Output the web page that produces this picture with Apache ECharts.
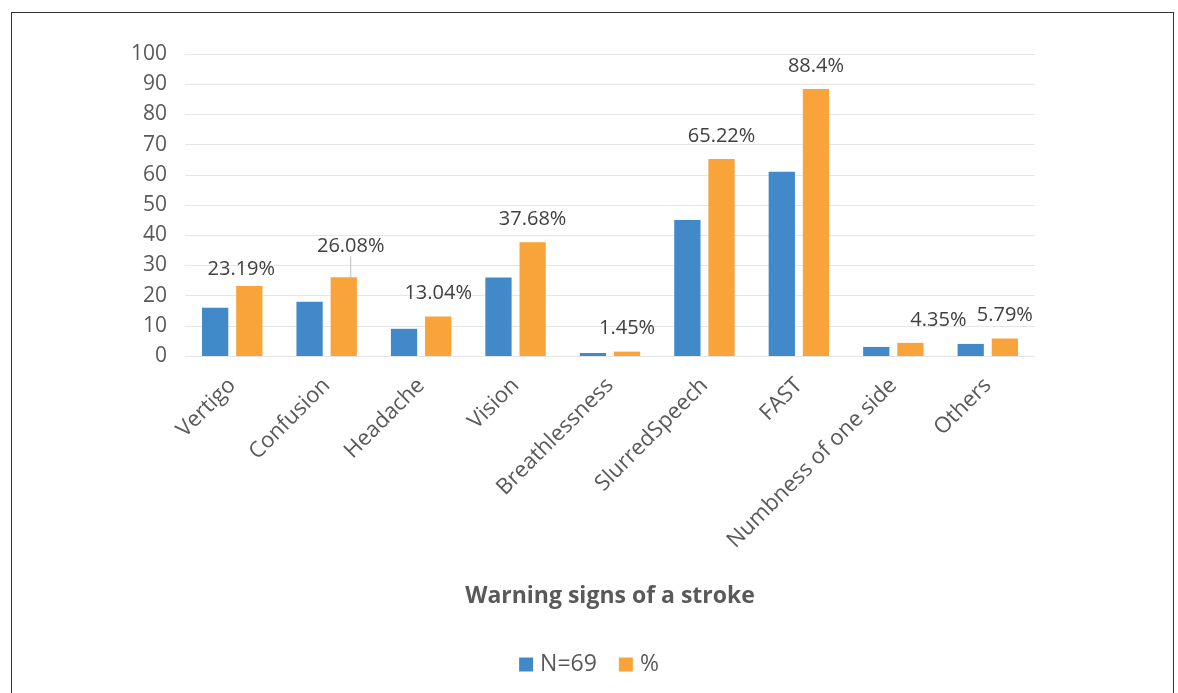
<!DOCTYPE html>
<html>
<head>
<meta charset="utf-8">
<title>Warning signs of a stroke</title>
<script src="https://cdn.jsdelivr.net/npm/echarts@6/dist/echarts.min.js"></script>
<style>
    body { margin: 0; background: #fff; }
    #demo { width: 1178px; height: 693px; }
    /* 外框 */
    #frame {
        position: absolute; left: 11px; top: 12px;
        width: 1161px; height: 700px;
        border: 1.5px solid #333; pointer-events: none;
    }
</style>
</head>
<body>
<div id="demo"></div>
<div id="frame"></div>
<script>
/**
 * 数据
 */
var categories = ['Vertigo', 'Confusion', 'Headache', 'Vision', 'Breathlessness',
    'SlurredSpeech', 'FAST', 'Numbness of one side', 'Others'];
var count_values = [16, 18, 9, 26, 1, 45, 61, 3, 4];                               // N=69
var pct_values = [23.19, 26.08, 13.04, 37.68, 1.45, 65.22, 88.4, 4.35, 5.79];     // %
var y_ticks = { min: 0, max: 100, interval: 10 };

// 个别标签的手动偏移（原图中手工挪过位置）
var label_nudge = { 0: [-8, 6], 1: [7, -8], 7: [28, 0] };

/**
 * 初始化参数
 */
var basedata = {
    dom_id: 'demo',
    echarts_bar: null
};

window.onload = function () {
    init_application();
};

var init_application = function () {
    basedata.echarts_bar = new StrokeBar(basedata.dom_id);
    basedata.echarts_bar.render_echart();
    window.onresize = function () {
        basedata.echarts_bar.myChart.resize();
    };
};

/******************************************************* 组件区域 ******************************************************/

function StrokeBar(dom_id) {
    this.dom_id = dom_id;
    this.myChart = null;
    this.option = {};
}
StrokeBar.prototype = {
    constructor: StrokeBar,
    build_option: function () {
        var font = '"Open Sans", "Liberation Sans", sans-serif';
        var pct_data = pct_values.map(function (v, i) {
            return i === 1 ? { value: v, labelLine: { show: true } } : v;
        });
        this.option = {
            animation: false,
            textStyle: { fontFamily: font },
            color: ['#4289c9', '#f8a43a'],
            grid: { left: 185, right: 143, top: 54, bottom: 337 },
            legend: {
                bottom: 12,
                left: 'center',
                itemWidth: 14,
                itemHeight: 14,
                itemGap: 22,
                icon: 'rect',
                textStyle: { fontSize: 23, color: '#595959', fontFamily: font, padding: [0, 0, 0, 2] },
                data: ['N=69', '%']
            },
            xAxis: {
                type: 'category',
                data: categories,
                name: 'Warning signs of a stroke',
                nameLocation: 'middle',
                nameGap: 229,
                nameTextStyle: { fontSize: 23, fontWeight: 'bold', color: '#595959' },
                axisTick: { show: false },
                axisLine: { show: false },
                axisLabel: { rotate: 45, fontSize: 22, color: '#595959', margin: 26, interval: 0 }
            },
            yAxis: {
                type: 'value',
                min: y_ticks.min,
                max: y_ticks.max,
                interval: y_ticks.interval,
                axisLine: { show: false },
                axisTick: { show: false },
                axisLabel: { fontSize: 21, color: '#595959', margin: 18 },
                splitLine: { lineStyle: { color: '#e6e6e6' } }
            },
            series: [
                {
                    name: 'N=69',
                    type: 'bar',
                    data: count_values,
                    barGap: '30%',
                    barCategoryGap: '36%'
                },
                {
                    name: '%',
                    type: 'bar',
                    data: pct_data,
                    barGap: '30%',
                    barCategoryGap: '36%',
                    label: {
                        show: true,
                        position: 'top',
                        distance: 13,
                        formatter: '{c}%',
                        fontSize: 20,
                        color: '#404040'
                    },
                    labelLine: { show: false, lineStyle: { color: '#bfbfbf', width: 1 } },
                    labelLayout: function (params) {
                        var n = label_nudge[params.dataIndex];
                        return n ? { dx: n[0], dy: n[1] } : {};
                    }
                }
            ]
        };
    },
    render_echart: function () {
        this.build_option();
        this.myChart = echarts.init(document.getElementById(this.dom_id));
        this.myChart.setOption(this.option);
    }
};
</script>
</body>
</html>
